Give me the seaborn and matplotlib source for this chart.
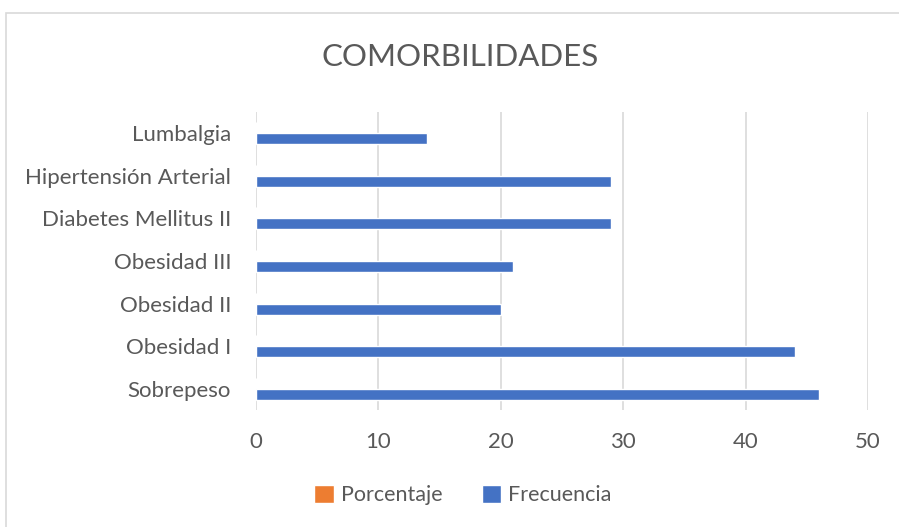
import pandas as pd
import seaborn as sns
import matplotlib.pyplot as plt
from matplotlib.patches import Rectangle, Patch

CATEGORIES = ["Lumbalgia",
              "Hipertensión Arterial",
              "Diabetes Mellitus II",
              "Obesidad III",
              "Obesidad II",
              "Obesidad I",
              "Sobrepeso"]
FRECUENCIA = [14, 29, 29, 21, 20, 44, 46]
PORCENTAJE = [0, 0, 0, 0, 0, 0, 0]
SERIES = ["Porcentaje", "Frecuencia"]
COLORS = ["#ed7d31", "#4472c4"]

df = pd.DataFrame({
    "categoria": CATEGORIES * 2,
    "valor": PORCENTAJE + FRECUENCIA,
    "serie": [SERIES[0]] * len(CATEGORIES) + [SERIES[1]] * len(CATEGORIES),
})

sns.set_style("white")
plt.rcParams['font.family'] = ['Lato', 'DejaVu Sans']

fig = plt.figure(figsize=(8.99, 5.27), dpi=100)
ax = fig.add_axes([256 / 899, 1 - 410 / 527, (868 - 256) / 899, (410 - 112) / 527])

sns.barplot(data=df, x="valor", y="categoria", hue="serie", order=CATEGORIES,
            hue_order=SERIES, palette=COLORS, orient="h", width=0.52, gap=0,
            saturation=1, legend=False, ax=ax)

ax.set_xlim(0, 50)
ax.set_xticks(range(0, 51, 10))
ax.set_xlabel("")
ax.set_ylabel("")
ax.grid(axis="x", color="#d9d9d9", linewidth=1.2)
ax.set_axisbelow(True)
for s in ax.spines.values():
    s.set_visible(False)
ax.tick_params(axis="both", length=0, labelsize=16, colors="#595959")
ax.tick_params(axis="x", pad=16)
ax.tick_params(axis="y", pad=18)

fig.text(460 / 899, 1 - 57 / 527, "COMORBILIDADES", ha="center", va="center",
         fontsize=22.5, color="#595959")

handles = [Patch(facecolor=c, label=s) for s, c in zip(SERIES, COLORS)]
fig.legend(handles=handles, loc="center", bbox_to_anchor=(463 / 899, 1 - 495 / 527),
           ncol=2, frameon=False, fontsize=15.5, handlelength=0.9, handleheight=0.9,
           handletextpad=0.35, columnspacing=1.8, labelcolor="#595959")

fig.patches.append(Rectangle((6 / 899, -0.05), 1.0, 1 - 13 / 527 + 0.05,
                             transform=fig.transFigure, fill=False,
                             edgecolor="#d9d9d9", linewidth=1.2))

fig.savefig("out.png", dpi=100)
